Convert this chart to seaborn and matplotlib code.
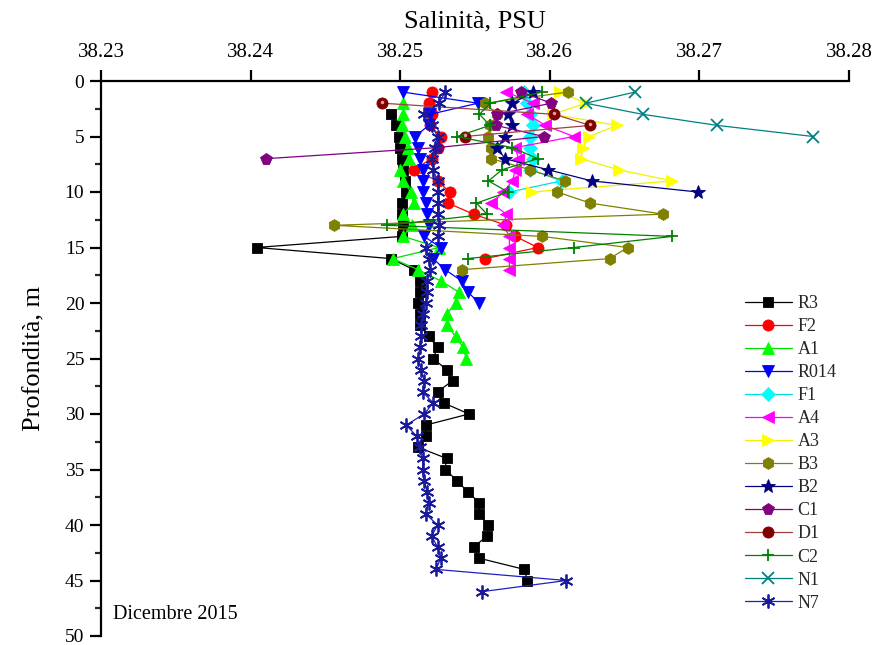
import matplotlib
matplotlib.use("Agg")
import matplotlib.pyplot as plt
import seaborn as sns
import pandas as pd

# ---------------- data (salinity PSU vs depth m) ----------------
r3_depth = [3, 4, 5, 6, 7, 8, 9, 10, 11, 12, 13, 14, 15, 16, 17, 18, 19, 20, 21, 22, 23, 24,
            25, 26, 27, 28, 29, 30, 31, 32, 33, 34, 35, 36, 37, 38, 39, 40, 41, 42, 43, 44, 45]
r3_sal = [38.2494, 38.2497, 38.2499, 38.2500, 38.2501, 38.2502, 38.2503, 38.2504, 38.2501,
          38.2501, 38.2502, 38.2501, 38.2404, 38.2494, 38.2509, 38.2513, 38.2513, 38.2512,
          38.2513, 38.2513, 38.2519, 38.2525, 38.2522, 38.2531, 38.2535, 38.2525, 38.2529,
          38.2546, 38.2517, 38.2517, 38.2512, 38.2531, 38.2530, 38.2538, 38.2545, 38.2553,
          38.2553, 38.2559, 38.2558, 38.2549, 38.2553, 38.2583, 38.2585]

f2_depth = [1, 2, 3, 4, 5, 6, 7, 8, 9, 10, 11, 12, 13, 14, 15, 16]
f2_sal = [38.2521, 38.2519, 38.2521, 38.2520, 38.2527, 38.2525, 38.2521, 38.2509, 38.2525,
          38.2533, 38.2532, 38.2549, 38.2571, 38.2577, 38.2592, 38.2557]

a1_depth = [2, 3, 4, 5, 6, 7, 8, 9, 10, 11, 12, 13, 14, 15, 16, 17, 18, 19, 20, 21, 22, 23, 24, 25]
a1_sal = [38.2502, 38.2502, 38.2501, 38.2503, 38.2505, 38.2506, 38.2500, 38.2502, 38.2507,
          38.2509, 38.2502, 38.2508, 38.2502, 38.2526, 38.2495, 38.2512, 38.2527, 38.2539,
          38.2537, 38.2531, 38.2531, 38.2537, 38.2542, 38.2544]

r014_depth = [1, 2, 3, 4, 5, 6, 7, 8, 9, 10, 11, 12, 13, 14, 15, 16, 17, 18, 19, 20]
r014_sal = [38.2502, 38.2552, 38.2520, 38.2519, 38.2510, 38.2512, 38.2513, 38.2515, 38.2515,
            38.2515, 38.2517, 38.2518, 38.2519, 38.2516, 38.2527, 38.2522, 38.2530, 38.2541,
            38.2545, 38.2553]

f1_depth = [1, 2, 3, 4, 5, 6, 7, 8, 9, 10]
f1_sal = [38.2583, 38.2585, 38.2587, 38.2589, 38.2587, 38.2587, 38.2589, 38.2587, 38.2608, 38.2573]

a4_depth = [1, 2, 3, 4, 5, 6, 7, 8, 9, 10, 11, 12, 13, 14, 15, 16, 17]
a4_sal = [38.2571, 38.2589, 38.2585, 38.2597, 38.2616, 38.2577, 38.2579, 38.2577, 38.2575,
          38.2569, 38.2561, 38.2571, 38.2569, 38.2573, 38.2573, 38.2573, 38.2573]

a3_depth = [1, 2, 3, 4, 5, 6, 7, 8, 9, 10]
a3_sal = [38.2607, 38.2624, 38.2602, 38.2645, 38.2626, 38.2622, 38.2621, 38.2646, 38.2682, 38.2588]

b3_depth = [1, 2, 3, 4, 5, 6, 7, 8, 9, 10, 11, 12, 13, 14, 15, 16, 17]
b3_sal = [38.2612, 38.2557, 38.2565, 38.2560, 38.2559, 38.2561, 38.2561, 38.2587, 38.2610,
          38.2605, 38.2627, 38.2676, 38.2456, 38.2595, 38.2652, 38.2640, 38.2541]

b2_depth = [1, 2, 3, 4, 5, 6, 7, 8, 9, 10]
b2_sal = [38.2589, 38.2575, 38.2572, 38.2575, 38.2570, 38.2565, 38.2570, 38.2599, 38.2628, 38.2699]

c1_depth = [1, 2, 3, 4, 5, 6, 7]
c1_sal = [38.2581, 38.2601, 38.2565, 38.2564, 38.2596, 38.2525, 38.2410]

d1_depth = [2, 3, 4, 5]
d1_sal = [38.2488, 38.2603, 38.2627, 38.2543]

c2_depth = [1, 2, 3, 4, 5, 6, 7, 8, 9, 10, 11, 12, 13, 14, 15, 16]
c2_sal = [38.2595, 38.2560, 38.2553, 38.2560, 38.2538, 38.2575, 38.2592, 38.2568, 38.2559,
          38.2572, 38.2551, 38.2558, 38.2491, 38.2682, 38.2616, 38.2545]

n1_depth = [1, 2, 3, 4, 5]
n1_sal = [38.2657, 38.2624, 38.2662, 38.2712, 38.2776]

n7_depth = [1, 2, 3, 4, 5, 6, 7, 8, 9, 10, 11, 12, 13, 14, 15, 16, 17, 18, 19, 20, 21, 22, 23,
            24, 25, 26, 27, 28, 29, 30, 31, 32, 33, 34, 35, 36, 37, 38, 39, 40, 41, 42, 43, 44,
            45, 46]
n7_sal = [38.2530, 38.2526, 38.2516, 38.2521, 38.2525, 38.2523, 38.2521, 38.2522, 38.2525,
          38.2525, 38.2525, 38.2525, 38.2526, 38.2525, 38.2517, 38.2519, 38.2520, 38.2518,
          38.2518, 38.2517, 38.2515, 38.2514, 38.2514, 38.2513, 38.2512, 38.2514, 38.2516,
          38.2515, 38.2522, 38.2516, 38.2504, 38.2511, 38.2513, 38.2515, 38.2515, 38.2516,
          38.2518, 38.2519, 38.2517, 38.2525, 38.2521, 38.2525, 38.2527, 38.2524, 38.2611,
          38.2555]

series_names = ["R3", "F2", "A1", "R014", "F1", "A4", "A3", "B3", "B2", "C1", "D1", "C2", "N1", "N7"]
x_ticks = [38.23, 38.24, 38.25, 38.26, 38.27, 38.28]
y_ticks = [0, 5, 10, 15, 20, 25, 30, 35, 40, 45, 50]

series = {
    "R3": (r3_sal, r3_depth), "F2": (f2_sal, f2_depth), "A1": (a1_sal, a1_depth),
    "R014": (r014_sal, r014_depth), "F1": (f1_sal, f1_depth), "A4": (a4_sal, a4_depth),
    "A3": (a3_sal, a3_depth), "B3": (b3_sal, b3_depth), "B2": (b2_sal, b2_depth),
    "C1": (c1_sal, c1_depth), "D1": (d1_sal, d1_depth), "C2": (c2_sal, c2_depth),
    "N1": (n1_sal, n1_depth), "N7": (n7_sal, n7_depth),
}

# ---------------- styles ----------------
styles = {
    "R3":   dict(color="#000000", lc="#000000", marker="s", ms=7.5),
    "F2":   dict(color="#FF0000", lc="#FF0000", marker="o", ms=8),
    "A1":   dict(color="#00FF00", lc="#00DD00", marker="^", ms=8.5),
    "R014": dict(color="#0000FF", lc="#0000FF", marker="v", ms=8.5),
    "F1":   dict(color="#00FFFF", lc="#00E0E0", marker="D", ms=7),
    "A4":   dict(color="#FF00FF", lc="#FF00FF", marker="<", ms=8.5),
    "A3":   dict(color="#FFFF00", lc="#F0F000", marker=">", ms=8.5),
    "B3":   dict(color="#808000", lc="#808000", marker="h", ms=8.5),
    "B2":   dict(color="#000080", lc="#000080", marker="*", ms=10),
    "C1":   dict(color="#800080", lc="#800080", marker="p", ms=8.5),
    "D1":   dict(color="#800000", lc="#A04040", marker="o", ms=8),
    "C2":   dict(color="#008000", lc="#008000", marker="+", ms=9),
    "N1":   dict(color="#008080", lc="#008080", marker="x", ms=8),
    "N7":   dict(color="#1A1A9A", lc="#2020C0", marker=(6, 2, 0), ms=10),
}

sns.set_theme(style="white")
plt.rcParams["font.family"] = ["Liberation Serif", "DejaVu Serif"]

fig = plt.figure(figsize=(8.73, 6.45), dpi=100)
ax = fig.add_axes([101 / 873, 1 - 636 / 645, (849 - 101) / 873, (636 - 81) / 645])

for name in series_names:
    xs, ys = series[name]
    st = styles[name]
    df = pd.DataFrame({"sal": xs, "depth": ys})
    lw_m = 1.3 if st["marker"] in ("+", "x", (6, 2, 0)) else 0.6
    sns.lineplot(data=df, x="sal", y="depth", sort=False, estimator=None, ax=ax,
                 color=st["lc"], linewidth=0.9, marker=st["marker"], markersize=st["ms"],
                 markerfacecolor=st["color"], markeredgecolor=st["color"],
                 markeredgewidth=lw_m, label=name, legend=False)

# D1 highlight on spheres
d1_df = pd.DataFrame({"sal": d1_sal, "depth": d1_depth})
ax.plot(d1_df["sal"], [d - 0.15 for d in d1_df["depth"]], linestyle="none", marker="o",
        markersize=2.5, color="#E0A0A0", markeredgewidth=0, zorder=5)

ax.set_xlim(38.23, 38.28)
ax.set_ylim(50, 0)
ax.set_xticks(x_ticks)
ax.set_xticklabels([f"{v:.2f}" for v in x_ticks])
ax.set_yticks(y_ticks)
ax.set_yticks([2.5, 7.5, 12.5, 17.5, 22.5, 27.5, 32.5, 37.5, 42.5, 47.5], minor=True)

ax.xaxis.tick_top()
ax.xaxis.set_label_position("top")
for s in ("bottom", "right"):
    ax.spines[s].set_visible(False)
for s in ("top", "left"):
    ax.spines[s].set_linewidth(1.6)
    ax.spines[s].set_color("black")

ax.tick_params(axis="x", which="major", direction="out", length=8, width=1.6,
               labelsize=15, pad=6, top=True, bottom=False, colors="black")
ax.tick_params(axis="y", which="major", direction="out", length=8, width=1.6,
               labelsize=14, pad=4, left=True, colors="black")
ax.tick_params(axis="y", which="minor", direction="out", length=4.5, width=1.6, left=True)

ax.set_xlabel("Salinità, PSU", fontsize=19, labelpad=11, color="black")
ax.set_ylabel("Profondità, m", fontsize=19, labelpad=14, color="black")
ax.grid(False)

ax.text(0.016, 0.022, "Dicembre 2015", transform=ax.transAxes, fontsize=14.5,
        ha="left", va="bottom", color="black")

handles, labels = ax.get_legend_handles_labels()
fig.legend(handles, labels, loc="upper left", bbox_to_anchor=(745 / 873, 1 - 295 / 645),
           frameon=False, fontsize=13, handlelength=2.6, handletextpad=0.3,
           labelspacing=0.335, borderpad=0, borderaxespad=0)

fig.savefig("out.png", dpi=100)
